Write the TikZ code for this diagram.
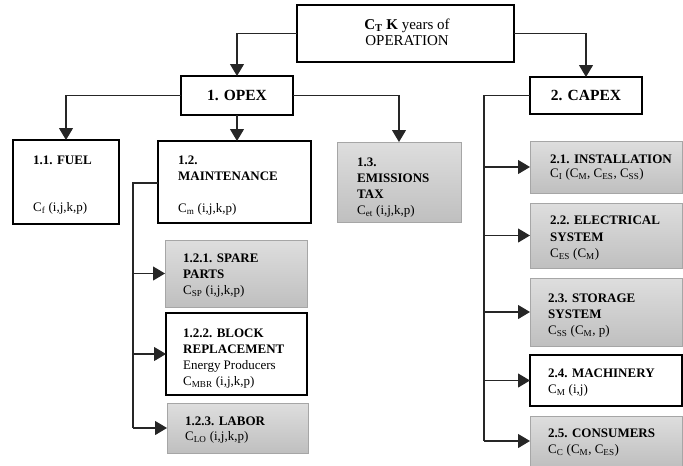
\documentclass[tikz,border=0pt]{standalone}
\usepackage{fontspec}
\setmainfont{Liberation Serif}
\usetikzlibrary{arrows.meta}

% box from its top-left corner (x1,y1) to its bottom-right corner (x2,y2)
\newcommand{\mkbox}[7][]{%
  \node[#1, anchor=north west, inner sep=0pt, outer sep=0pt,
        minimum width={(#5-#3)*1pt}, minimum height={(#6-#4)*1pt}] (#2) at (#3,#4) {#7};}
% strut fixing the height of the first line of a text block
\newcommand{\fl}{\rule{0pt}{10pt}}

\tikzset{
  wbox/.style={draw=black, line width=2.2pt, fill=white},
  gbox/.style={draw=black!35, line width=0.9pt, top color=black!13, bottom color=black!25},
  conn/.style={draw=black!85, line width=1.1pt},
  arr/.style={conn, -{Triangle[width=14pt,length=12pt]}},
  txt/.style={anchor=north west, inner sep=0pt, align=left,
              font=\fontsize{13}{16}\selectfont},
  head/.style={font=\fontsize{15.5}{18}\selectfont\bfseries},
}

\begin{document}
\begin{tikzpicture}[x=1pt,y=-1pt]
\useasboundingbox (0,0) rectangle (683,466);

% ---- boxes ----
\mkbox[wbox]{top}{297}{5}{514}{62}{}
\mkbox[wbox,head]{opex}{181}{76}{293}{115}{1. OPEX}
\mkbox[wbox,head]{capex}{530}{77}{642}{114}{2. CAPEX}

\mkbox[wbox]{fuel}{13}{140}{119}{224}{}
\mkbox[wbox]{maint}{158}{141}{311}{223}{}
\mkbox[gbox]{emis}{337}{142}{461}{222}{}

\mkbox[gbox]{spare}{165}{240}{307}{307}{}
\mkbox[wbox]{block}{166}{313}{307}{395}{}
\mkbox[gbox]{labor}{167}{403}{308}{453}{}

\mkbox[gbox]{inst}{530}{141}{682}{193}{}
\mkbox[gbox]{elec}{530}{203}{682}{268}{}
\mkbox[gbox]{stor}{530}{278}{682}{346}{}
\mkbox[wbox]{mach}{530}{355}{682}{406}{}
\mkbox[gbox]{cons}{530}{416}{682}{466}{}

% ---- texts ----
\node[txt, anchor=north, align=center, font=\fontsize{15}{16.5}\selectfont] (top-t) at (407,18)
  {\rule{0pt}{11pt}\textbf{C\textsubscript{T} K} years of\\OPERATION};

\node[txt] (fuel-t) at (33,154) {\fl\textbf{1.1. FUEL}\\[31pt]C\textsubscript{f} (i,j,k,p)};
\node[txt] (maint-t) at (178,154) {\fl\textbf{1.2.}\\\textbf{MAINTENANCE}\\[16pt]C\textsubscript{m} (i,j,k,p)};
\node[txt] (emis-t) at (357,156) {\fl\textbf{1.3.}\\\textbf{EMISSIONS}\\\textbf{TAX}\\C\textsubscript{et} (i,j,k,p)};

\node[txt] (spare-t) at (183,252) {\fl\textbf{1.2.1. SPARE}\\\textbf{PARTS}\\C\textsubscript{SP} (i,j,k,p)};
\node[txt] (block-t) at (183,327) {\fl\textbf{1.2.2. BLOCK}\\\textbf{REPLACEMENT}\\Energy Producers\\C\textsubscript{MBR} (i,j,k,p)};
\node[txt] (labor-t) at (185,415) {\fl\textbf{1.2.3. LABOR}\\[-1pt]C\textsubscript{LO} (i,j,k,p)};

\node[txt] (inst-t) at (550,153) {\fl\textbf{2.1. INSTALLATION}\\[-2pt]C\textsubscript{I} (C\textsubscript{M}, C\textsubscript{ES}, C\textsubscript{SS})};
\node[txt] (elec-t) at (550,214) {\fl\textbf{2.2. ELECTRICAL}\\[1pt]\textbf{SYSTEM}\\C\textsubscript{ES} (C\textsubscript{M})};
\node[txt] (stor-t) at (548,292) {\fl\textbf{2.3. STORAGE}\\\textbf{SYSTEM}\\C\textsubscript{SS} (C\textsubscript{M}, p)};
\node[txt] (mach-t) at (548,367) {\fl\textbf{2.4. MACHINERY}\\C\textsubscript{M} (i,j)};
\node[txt] (cons-t) at (548,427) {\fl\textbf{2.5. CONSUMERS}\\C\textsubscript{C} (C\textsubscript{M}, C\textsubscript{ES})};

% ---- connectors ----
\draw[arr] (top.west) -| (opex.north);
\draw[arr] (top.east) -| (capex.north);

\draw[arr] (opex.west) -| (fuel.north);
\draw[arr] (opex.south) -- (opex.south |- maint.north);
\draw[arr] (opex.east) -| (emis.north);

% maintenance sub-items
\coordinate (mt) at (133,183);
\draw[conn] (maint.west |- mt) -- (mt) -- (mt |- labor.west);
\draw[arr] (mt |- spare.west) -- (spare.west);
\draw[arr] (mt |- block.west) -- (block.west);
\draw[arr] (mt |- labor.west) -- (labor.west);

% capex sub-items
\coordinate (ct) at (484,95.5);
\draw[conn] (capex.west) -- (ct) -- (ct |- cons.west);
\draw[arr] (ct |- inst.west) -- (inst.west);
\draw[arr] (ct |- elec.west) -- (elec.west);
\draw[arr] (ct |- stor.west) -- (stor.west);
\draw[arr] (ct |- mach.west) -- (mach.west);
\draw[arr] (ct |- cons.west) -- (cons.west);
\end{tikzpicture}
\end{document}
